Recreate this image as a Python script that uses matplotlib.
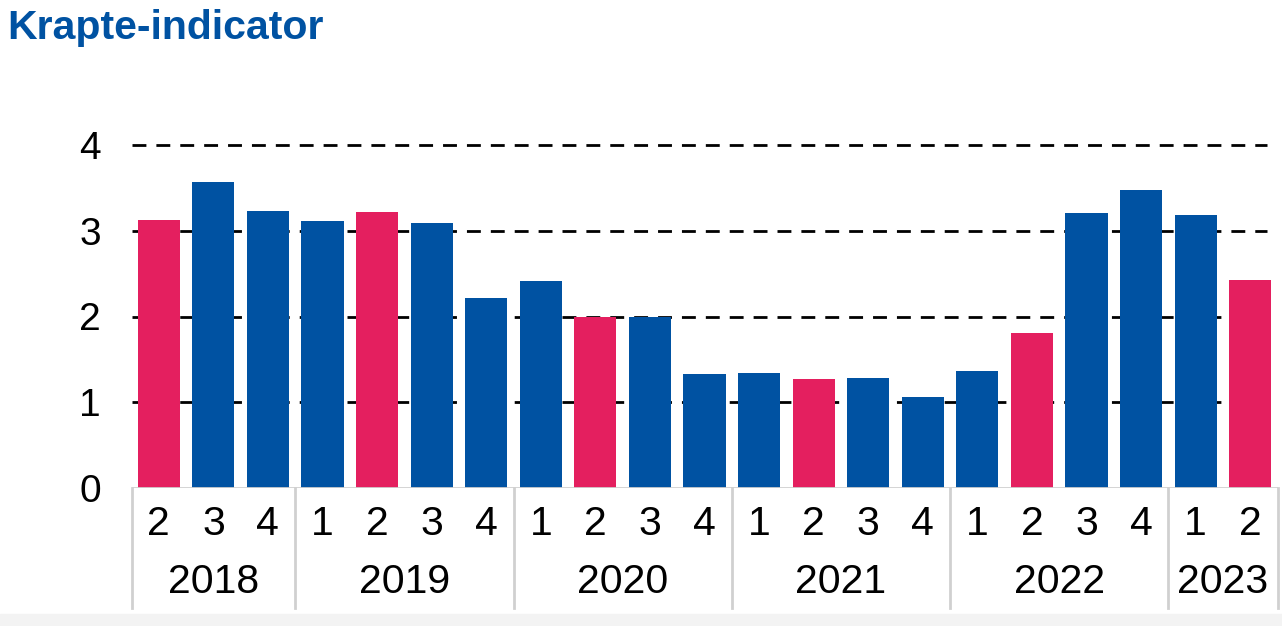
import matplotlib.pyplot as plt
from matplotlib.patches import Rectangle

# Krapte-indicator per kwartaal
years = ['2018', '2019', '2020', '2021', '2022', '2023']
quarters = [['2', '3', '4'], ['1', '2', '3', '4'], ['1', '2', '3', '4'],
            ['1', '2', '3', '4'], ['1', '2', '3', '4'], ['1', '2']]
values = [3.12, 3.57, 3.23,
          3.11, 3.22, 3.09, 2.22,
          2.41, 2.00, 1.99, 1.33,
          1.34, 1.27, 1.28, 1.06,
          1.37, 1.81, 3.21, 3.48,
          3.18, 2.42]

blue = '#0052a2'
pink = '#e41f5f'
grey = '#d0d0d0'

plt.rcParams['font.family'] = ['Liberation Sans', 'DejaVu Sans']

labels = [q for group in quarters for q in group]
colors = [pink if q == '2' else blue for q in labels]
x = list(range(len(values)))

fig = plt.figure(figsize=(12.82, 6.26), dpi=100)
fig.patches.append(Rectangle((0, 0), 1, 12 / 626, transform=fig.transFigure,
                             color='#f3f3f3', zorder=0))
ax = fig.add_axes([131.5 / 1282, (626 - 488) / 626, 1146 / 1282, 343 / 626])

ax.bar(x, values, width=0.77, color=colors, zorder=3)

# dashed gridlines and grey baseline
for y in [1, 2, 3, 4]:
    ax.plot([-0.5, 20.3], [y, y], color='black', lw=2, ls=(0, (5, 3.6)),
            zorder=2, clip_on=False)
ax.axhline(0, color=grey, lw=2, zorder=4)

ax.set_xlim(-0.5, len(values) - 0.5)
ax.set_ylim(0, 4)
ax.set_yticks([0, 1, 2, 3, 4])
ax.set_xticks(x)
ax.set_xticklabels(labels)
ax.tick_params(axis='y', length=0, pad=22, labelsize=28)
ax.tick_params(axis='x', length=0, pad=12, labelsize=29.5)
for s in ax.spines.values():
    s.set_visible(False)

# year labels and group separators
start = 0
bounds = [-0.5]
for yr, group in zip(years, quarters):
    mid = start + (len(group) - 1) / 2
    ax.text(mid, -0.274, yr, transform=ax.get_xaxis_transform(), ha='center',
            va='center', fontsize=29.5)
    start += len(group)
    bounds.append(start - 0.5)
for b in bounds:
    ax.plot([b, b], [0, -0.35], transform=ax.get_xaxis_transform(),
            color=grey, lw=2, clip_on=False)

fig.text(7 / 1282, 1 - 28 / 626, 'Krapte-indicator', fontsize=29.5,
         fontweight='bold', color=blue, va='center', ha='left')

fig.savefig('out.png', dpi=100)
